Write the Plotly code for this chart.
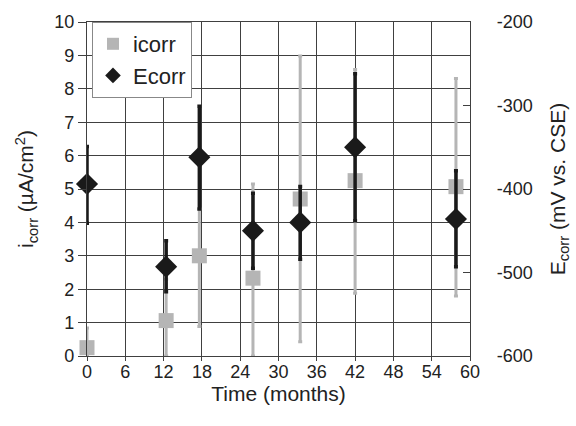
import plotly.graph_objects as go

# icorr (left axis, µA/cm²)
i_time = [0, 12.4, 17.6, 26, 33.4, 42, 57.8]
i_val = [0.25, 1.06, 3.0, 2.33, 4.7, 5.25, 5.07]
i_hi = [0.84, 2.3, 4.4, 5.15, 8.98, 8.58, 8.31]
i_lo = [0.0, 0.0, 0.88, 0.0, 0.43, 1.88, 1.8]

# Ecorr (right axis, mV vs. CSE)
e_time = [0, 12.4, 17.6, 26, 33.4, 42, 57.8]
e_val = [-394, -493, -362, -450, -440, -350, -436]
e_hi = [-349, -462, -301, -405, -397, -262, -378]
e_lo = [-441, -523, -424, -495, -484, -438, -493]

x_ticks = [0, 6, 12, 18, 24, 30, 36, 42, 48, 54, 60]
y2_ticks = [-600, -500, -400, -300, -200]
y2_labels = ["-600", "-500", "-400", "-300", "-200"]

FONT = "Liberation Sans, Arial, Helvetica, sans-serif"
GRAY = "#b5b5b5"
BLACK = "#1a1a1a"
GRID = "#404040"

fig = go.Figure()
fig.add_trace(go.Scatter(
    x=i_time, y=i_val, mode="markers", name="icorr",
    marker=dict(symbol="square", size=15, color=GRAY),
    error_y=dict(type="data", symmetric=False,
                 array=[h - v for h, v in zip(i_hi, i_val)],
                 arrayminus=[v - l for v, l in zip(i_val, i_lo)],
                 color=GRAY, thickness=3, width=2),
    cliponaxis=False,
))
fig.add_trace(go.Scatter(
    x=e_time, y=e_val, mode="markers", name="Ecorr", yaxis="y2",
    marker=dict(symbol="diamond", size=17, color=BLACK),
    error_y=dict(type="data", symmetric=False,
                 array=[h - v for h, v in zip(e_hi, e_val)],
                 arrayminus=[v - l for v, l in zip(e_val, e_lo)],
                 color=BLACK, thickness=3.5, width=2),
    cliponaxis=False,
))

fig.update_layout(
    width=576, height=426,
    margin=dict(l=87, r=106, t=22, b=70),
    paper_bgcolor="white", plot_bgcolor="white",
    font=dict(family=FONT, size=18, color="#222222"),
    showlegend=True,
    legend=dict(x=0.013, y=1.0, xanchor="left", yanchor="top",
                bgcolor="white", bordercolor="#888888", borderwidth=1,
                font=dict(size=22, color="#222222"),
                itemsizing="constant", tracegroupgap=0),
    xaxis=dict(range=[0, 60], tickvals=x_ticks, showgrid=True,
               gridcolor=GRID, gridwidth=1.3, zeroline=False,
               showline=True, linecolor=GRID, linewidth=1.3, mirror=True,
               ticks="outside", ticklen=4, tickcolor=GRID,
               tickfont=dict(size=18), ticklabelstandoff=-5,
               title=dict(text="Time (months)", font=dict(size=21), standoff=0)),
    yaxis=dict(range=[0, 10], dtick=1, showgrid=True,
               gridcolor=GRID, gridwidth=1.3, zeroline=False,
               showline=True, linecolor=GRID, linewidth=1.3,
               ticks="outside", ticklen=8, tickcolor=GRID,
               tickfont=dict(size=18),
               title=dict(text="i<sub>corr</sub> (µA/cm<sup>2</sup>)",
                          font=dict(size=21), standoff=14)),
    yaxis2=dict(range=[-600, -200], tickvals=y2_ticks, ticktext=y2_labels,
                overlaying="y", side="right",
                showgrid=False, zeroline=False,
                showline=True, linecolor=GRID, linewidth=1.3,
                ticks="inside", ticklen=7, tickwidth=1.3, tickcolor=GRID,
                tickfont=dict(size=18), ticklabelstandoff=22,
                title=dict(text="E<sub>corr</sub> (mV vs. CSE)",
                           font=dict(size=21), standoff=18)),
)

fig.write_html("out.html")
